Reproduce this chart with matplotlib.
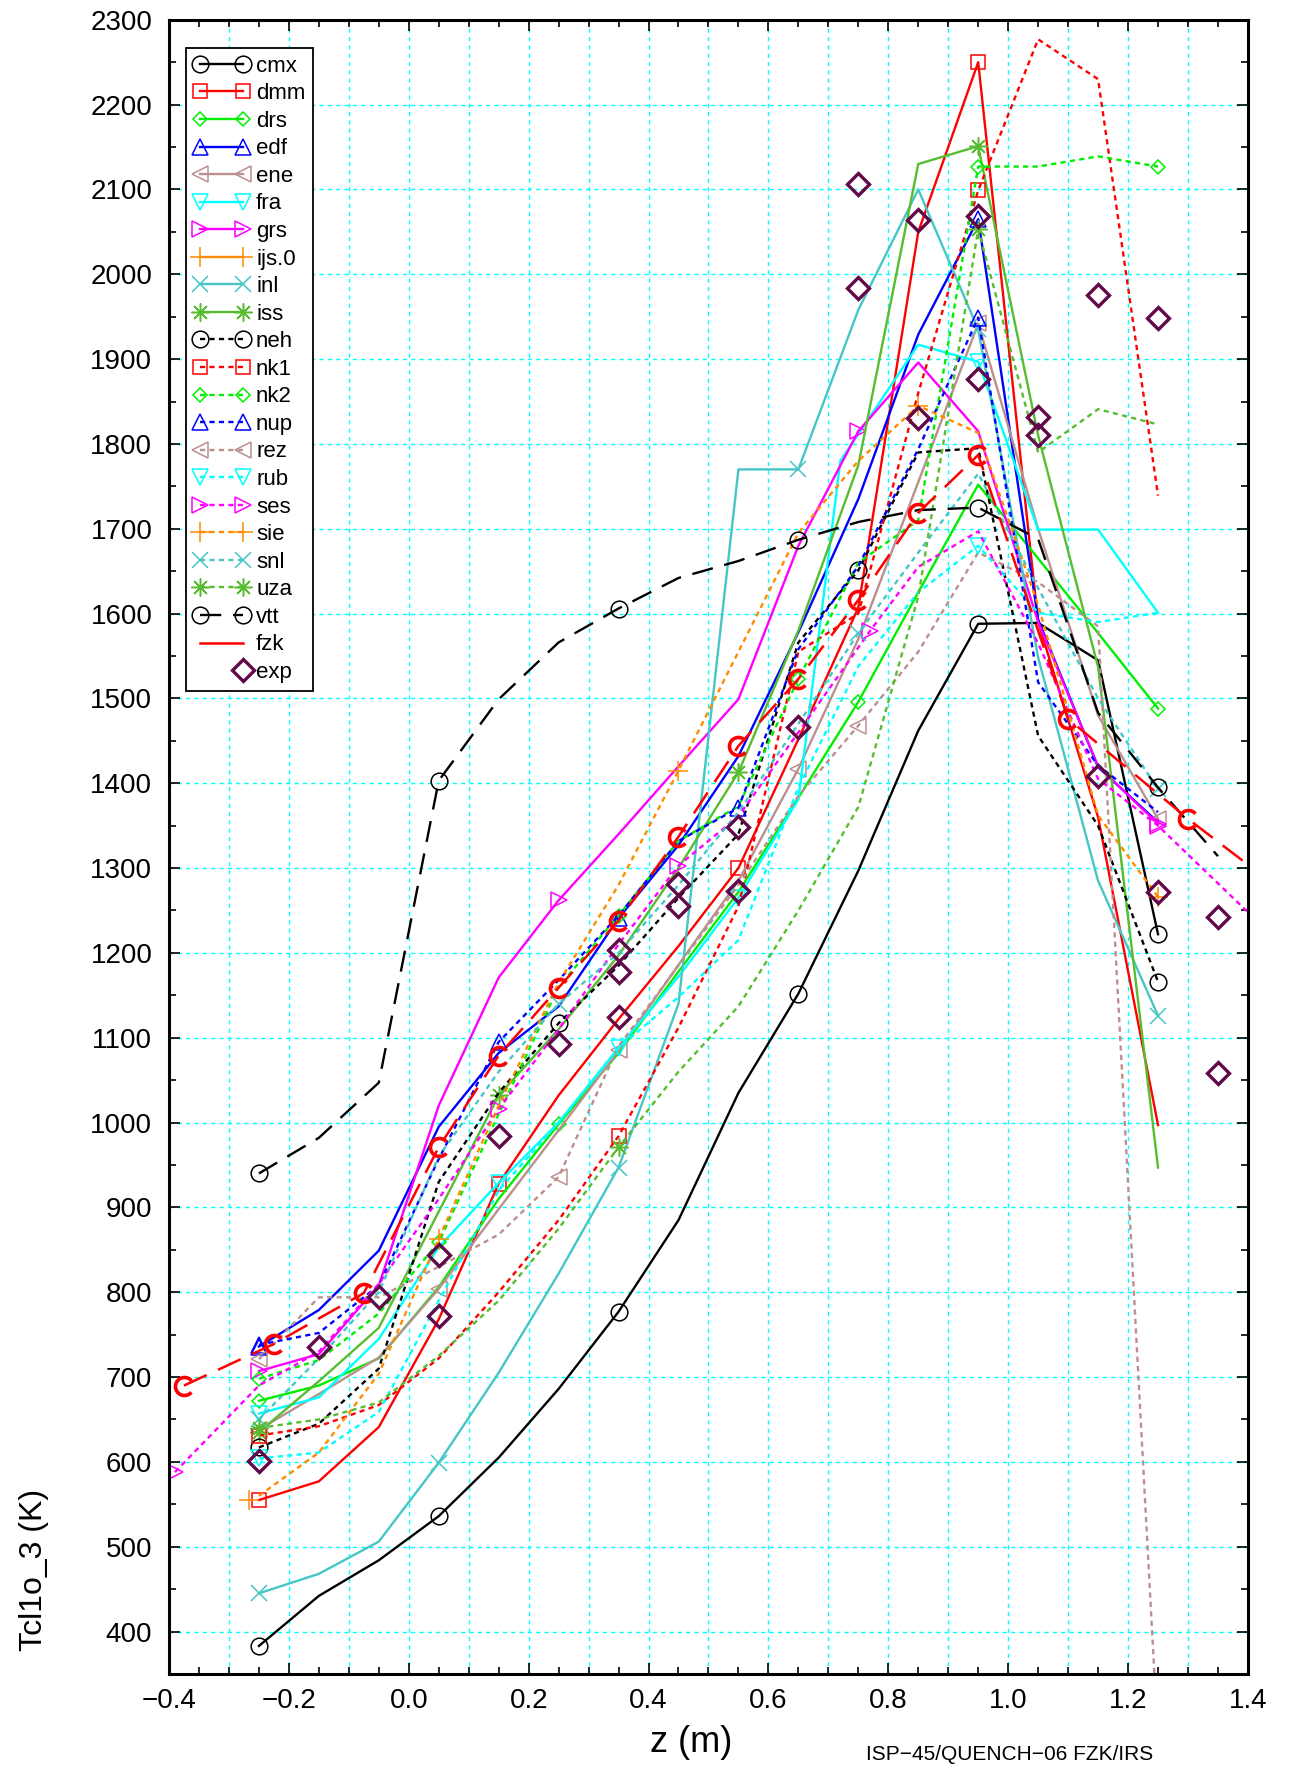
import matplotlib
matplotlib.use('Agg')
import matplotlib.pyplot as plt
from matplotlib.lines import Line2D
from matplotlib.path import Path
from matplotlib.legend_handler import HandlerLine2D
from matplotlib.ticker import MultipleLocator, FuncFormatter

plt.rcParams['font.family'] = ['Liberation Sans', 'DejaVu Sans']

# axial nodes (m) shared by most of the codes
z = [-0.25, -0.15, -0.05, 0.05, 0.15, 0.25, 0.35, 0.45, 0.55, 0.65, 0.75, 0.85, 0.95, 1.05, 1.15, 1.25]

# cladding temperature Tcl1o_3 (K) per code
cmx = [383, 442, 484, 536, 605, 686, 777, 885, 1035, 1152, 1297, 1462, 1588, 1589, 1545, 1222]
dmm = [555, 577, 641, 768, 928, 1032, 1122, 1208, 1300, 1452, 1607, 2050, 2250, 1590, 1360, 997]
drs = [672, 690, 722, 806, 910, 998, 1082, 1178, 1272, 1383, 1496, 1625, 1752, 1665, 1577, 1488]
edf = [736, 779, 849, 995, 1082, 1137, 1241, 1327, 1432, 1578, 1735, 1929, 2065, 1593, 1419, 1354]
ene = [638, 680, 723, 804, 898, 991, 1085, 1186, 1285, 1417, 1570, 1755, 1942, 1700, 1480, 1358]
z_fra = [-0.25, -0.15, -0.05, 0.05, 0.15, 0.25, 0.35, 0.45, 0.55, 0.65, 0.72, 0.85, 0.95, 1.05, 1.15, 1.25]
fra = [657, 676, 745, 853, 929, 1000, 1088, 1172, 1265, 1381, 1780, 1917, 1897, 1699, 1699, 1601]
grs = [707, 727, 808, 1020, 1171, 1262, 1340, 1420, 1499, 1680, 1815, 1896, 1815, 1590, 1420, 1352]
z_ijs = [-0.267]
ijs = [555]
inl = [445, 468, 506, 599, 705, 822, 947, 1140, 1770, 1770, 1958, 2100, 1935, 1548, 1285, 1126]
iss = [635, 695, 758, 895, 1032, 1110, 1197, 1300, 1413, 1580, 1775, 2130, 2151, 1810, 1537, 947]
neh = [617, 645, 710, 930, 1035, 1117, 1185, 1265, 1340, 1566, 1651, 1790, 1795, 1456, 1350, 1166]
nk1 = [631, 642, 667, 722, 800, 885, 984, 1112, 1255, 1555, 1600, 1860, 2099, 2277, 2230, 1739]
nk2 = [698, 720, 775, 859, 1010, 1160, 1244, 1332, 1373, 1523, 1660, 1710, 2127, 2127, 2139, 2127]
nup = [738, 752, 808, 957, 1095, 1168, 1244, 1332, 1371, 1558, 1656, 1794, 1949, 1519, 1421, 1366]
rez = [721, 794, 794, 830, 868, 936, 1090, 1185, 1280, 1385, 1468, 1555, 1672, 1637, 1585, 270]
rub = [604, 611, 659, 790, 920, 1000, 1088, 1148, 1215, 1395, 1538, 1625, 1680, 1601, 1590, 1601]
z_ses = [-0.39, -0.25, -0.15, -0.05, 0.05, 0.15, 0.25, 0.35, 0.45, 0.55, 0.65, 0.77, 0.85, 0.95, 1.05, 1.15, 1.25, 1.45]
ses = [588, 690, 730, 810, 910, 1016, 1110, 1210, 1303, 1361, 1460, 1580, 1655, 1697, 1565, 1405, 1350, 1214]
sie = [560, 611, 704, 863, 1020, 1165, 1280, 1415, 1555, 1695, 1780, 1845, 1813, 1610, 1362, 1266]
snl = [650, 722, 800, 960, 1060, 1140, 1200, 1280, 1366, 1470, 1577, 1672, 1765, 1630, 1500, 1393]
uza = [640, 650, 670, 725, 790, 875, 971, 1060, 1137, 1250, 1372, 1620, 2053, 1790, 1841, 1823]
z_vtt = [-0.25, -0.15, -0.05, 0.05, 0.15, 0.25, 0.35, 0.45, 0.55, 0.65, 0.75, 0.85, 0.95, 1.05, 1.15, 1.25, 1.35]
vtt = [940, 982, 1047, 1403, 1499, 1566, 1606, 1642, 1662, 1687, 1708, 1722, 1725, 1688, 1483, 1395, 1314]
z_fzk = [-0.375, -0.225, -0.075, 0.05, 0.15, 0.25, 0.35, 0.45, 0.55, 0.65, 0.75, 0.85, 0.95, 1.10, 1.30, 1.50]
fzk = [690, 739, 799, 971, 1079, 1159, 1238, 1337, 1444, 1523, 1616, 1719, 1787, 1476, 1358, 1250]

# measured values
z_exp = [-0.25, -0.15, -0.05, 0.05, 0.05, 0.15, 0.25, 0.35, 0.35, 0.35, 0.45, 0.45, 0.55, 0.55,
         0.65, 0.75, 0.75, 0.85, 0.85, 0.95, 0.95, 1.05, 1.05, 1.15, 1.15, 1.25, 1.25, 1.35, 1.35]
t_exp = [601, 735, 794, 772, 844, 984, 1093, 1125, 1178, 1204, 1281, 1255, 1349, 1273,
         1466, 2106, 1984, 2064, 1830, 2069, 1876, 1832, 1810, 1976, 1409, 1948, 1272, 1242, 1059]

SOLID = '-'
DOT = (0, (2.2, 1.8))
LONG = (0, (9, 5))

c_arc = Path.arc(40, 320)

# name, x, y, colour, linestyle, marker, markevery
series = [
    ('cmx', z, cmx, 'black', SOLID, 'o', 3),
    ('dmm', z, dmm, '#ff0000', SOLID, 's', 4),
    ('drs', z, drs, '#00ee00', SOLID, 'D', 5),
    ('edf', z, edf, '#0000ff', SOLID, '^', 6),
    ('ene', z, ene, '#bc8f8f', SOLID, '<', 3),
    ('fra', z_fra, fra, '#00ffff', SOLID, 'v', 4),
    ('grs', z, grs, '#ff00ff', SOLID, '>', 5),
    ('ijs.0', z_ijs, ijs, '#ff8c00', SOLID, '+', None),
    ('inl', z, inl, '#46c6c6', SOLID, 'x', 3),
    ('iss', z, iss, '#58bc30', SOLID, (8, 2, 0), 4),
    ('neh', z, neh, 'black', DOT, 'o', 5),
    ('nk1', z, nk1, '#ff0000', DOT, 's', 6),
    ('nk2', z, nk2, '#00ee00', DOT, 'D', 3),
    ('nup', z, nup, '#0000ff', DOT, '^', 4),
    ('rez', z, rez, '#bc8f8f', DOT, '<', 5),
    ('rub', z, rub, '#00ffff', DOT, 'v', 6),
    ('ses', z_ses, ses, '#ff00ff', DOT, '>', [0, 5, 8, 11, 16]),
    ('sie', z, sie, '#ff8c00', DOT, '+', (3, 4)),
    ('snl', z, snl, '#46c6c6', DOT, 'x', 5),
    ('uza', z, uza, '#58bc30', DOT, (8, 2, 0), 6),
    ('vtt', z_vtt, vtt, 'black', LONG, 'o', 3),
]

marker_size = {'o': 12, 's': 10, 'D': 7.5, '^': 11, 'v': 11, '<': 11, '>': 11, '+': 14, 'x': 11}


class HandlerRightMarker(HandlerLine2D):
    # single marker at the right end of the legend sample
    def create_artists(self, legend, orig_handle, xdescent, ydescent, width, height, fontsize, trans):
        xdata, _ = self.get_xdata(legend, xdescent, ydescent, width, height, fontsize)
        mk = Line2D([xdata[-1]], [(height - ydescent) / 2])
        self.update_prop(mk, orig_handle, legend)
        mk.set_transform(trans)
        return [mk]


fig = plt.figure(figsize=(12.9, 17.68), dpi=100)
ax = fig.add_axes([0.131, 0.0532, 0.8364, 0.9356])

for xv in [-0.3, -0.2, -0.1, 0.0, 0.1, 0.2, 0.3, 0.4, 0.5, 0.6, 0.7, 0.8, 0.9, 1.0, 1.1, 1.2, 1.3]:
    ax.axvline(xv, color='#00ffff', lw=1.0, ls=(0, (3, 3)), zorder=0)
for yv in range(400, 2300, 100):
    ax.axhline(yv, color='#00ffff', lw=1.0, ls=(0, (3, 3)), zorder=0)

handles = []
for name, xs, ys, col, ls, mk, me in series:
    ms = marker_size.get(mk, 12) if isinstance(mk, str) else 13
    ax.plot(xs, ys, color=col, ls=ls, lw=1.7, marker=mk, ms=ms, mfc='none',
            mec=col, mew=1.1, markevery=me, zorder=2)
    handles.append(Line2D([], [], color=col, ls=ls, lw=1.7, marker=mk, ms=ms,
                          mfc='none', mec=col, mew=1.1, label=name))

ax.plot(z_fzk, fzk, color='#ff0000', ls=(0, (10, 5)), lw=1.8, marker=c_arc, ms=13,
        mfc='none', mec='#ff0000', mew=2.6, zorder=3)
handles.append(Line2D([], [], color='#ff0000', ls='-', lw=1.8, label='fzk'))

ax.plot(z_exp, t_exp, ls='none', marker='D', ms=11, mfc='none', mec='#600848', mew=2.4, zorder=4)
exp_handle = Line2D([], [], ls='none', marker='D', ms=11, mfc='none', mec='#600848',
                    mew=2.4, label='exp')
handles.append(exp_handle)

ax.set_xlim(-0.4, 1.4)
ax.set_ylim(350, 2300)
ax.xaxis.set_major_locator(MultipleLocator(0.2))
ax.xaxis.set_minor_locator(MultipleLocator(0.05))
ax.yaxis.set_major_locator(MultipleLocator(100))
ax.yaxis.set_minor_locator(MultipleLocator(50))
ax.xaxis.set_major_formatter(FuncFormatter(lambda v, p: ('%.1f' % v).replace('-', '\u2212')))
ax.yaxis.set_major_formatter(FuncFormatter(lambda v, p: '%d' % v if v >= 400 else ''))
ax.tick_params(which='both', direction='in', top=True, right=True, labelsize=20, width=1.2)
ax.tick_params(which='major', length=8)
ax.tick_params(which='minor', length=5)
ax.tick_params(axis='y', which='major', pad=12)
ax.tick_params(axis='x', which='major', pad=10)
for sp in ax.spines.values():
    sp.set_linewidth(2.2)

leg = ax.legend(handles=handles, loc='upper left', bbox_to_anchor=(0.0158, 0.983),
                borderaxespad=0, fontsize=16, numpoints=2, handlelength=2.5,
                handletextpad=0.3, labelspacing=0.295, borderpad=0.35,
                fancybox=False, framealpha=1, edgecolor='black',
                handler_map={exp_handle: HandlerRightMarker()})
leg.get_frame().set_linewidth(1.3)

fig.text(0.026, 0.112, 'Tcl1o_3 (K)', rotation=90, ha='center', va='center', fontsize=23)
fig.text(0.536, 0.0147, 'z (m)', ha='center', va='center', fontsize=26)
fig.text(0.671, 0.0074, 'ISP\u221245/QUENCH\u221206 FZK/IRS', ha='left', va='center', fontsize=15)

fig.savefig('out.png', dpi=100)
